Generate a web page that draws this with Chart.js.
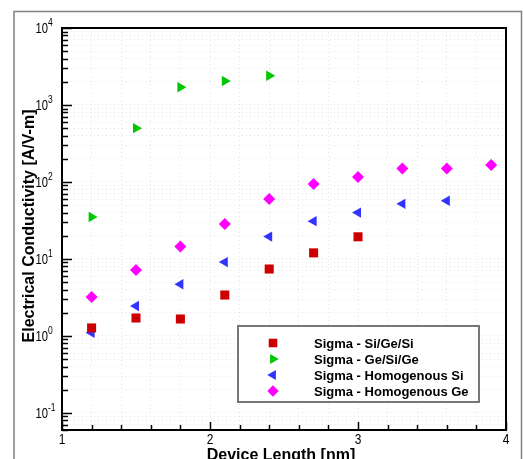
<!DOCTYPE html>
<html>
<head>
<meta charset="utf-8">
<script src="https://cdn.jsdelivr.net/npm/chart.js@4.4.1/dist/chart.umd.min.js"></script>
<style>
  html, body { margin: 0; padding: 0; background: #fff; }
  canvas { display: block; }
</style>
</head>
<body>
<canvas id="chart" width="523" height="459"></canvas>
<script>
// values (device length in nm, conductivity in A/V-m)
const siGeSiLen = [1.2, 1.5, 1.8, 2.1, 2.4, 2.7, 3.0];
const siGeSiSigma = [1.27, 1.71, 1.66, 3.4, 7.4, 12, 19.4];

const geSiGeLen = [1.2, 1.5, 1.8, 2.1, 2.4];
const geSiGeSigma = [35, 500, 1700, 2050, 2400];

const homoSiLen = [1.2, 1.5, 1.8, 2.1, 2.4, 2.7, 3.0, 3.3, 3.6];
const homoSiSigma = [1.1, 2.45, 4.7, 9.1, 19.5, 31, 40, 52, 57];

const homoGeLen = [1.2, 1.5, 1.8, 2.1, 2.4, 2.7, 3.0, 3.3, 3.6, 3.9];
const homoGeSigma = [3.2, 7.2, 14.5, 28.5, 60, 94, 116, 150, 150, 166];

const seriesNames = ['Sigma - Si/Ge/Si', 'Sigma - Ge/Si/Ge', 'Sigma - Homogenous Si', 'Sigma - Homogenous Ge'];
const xTickLabels = [1, 2, 3, 4];
const xMinorTicks = [1.2, 1.4, 1.6, 1.8, 2.2, 2.4, 2.6, 2.8, 3.2, 3.4, 3.6, 3.8];
const yTickExponents = [-1, 0, 1, 2, 3, 4];
const xTitle = 'Device Length [nm]';
const yTitle = 'Electrical Conductivity [A/V-m]';

const FONT = '"Liberation Sans", Arial, Helvetica, sans-serif';

function toPoints(xs, ys) {
    return xs.map((x, i) => ({ x: x, y: ys[i] }));
}

// all log ticks 1..9 x 10^n inside the range, used for minor grid/ticks
function logTicks(min, max) {
    const out = [];
    for (let e = -2; e <= 4; e++) {
        for (let m = 1; m <= 9; m++) {
            const v = m * Math.pow(10, e);
            if (v >= min - 1e-12 && v <= max + 1e-9) out.push(v);
        }
    }
    return out;
}

const styles = [
    { color: '#cc0000', pointStyle: 'rect', radius: 6.4, rotation: 0 },
    { color: '#00c800', pointStyle: 'triangle', radius: 6, rotation: 90 },
    { color: '#3333ff', pointStyle: 'triangle', radius: 6, rotation: -90 },
    { color: '#ff00ff', pointStyle: 'rectRot', radius: 6, rotation: 0 },
];

const seriesData = [
    toPoints(siGeSiLen, siGeSiSigma),
    toPoints(geSiGeLen, geSiGeSigma),
    toPoints(homoSiLen, homoSiSigma),
    toPoints(homoGeLen, homoGeSigma),
];

const datasets = seriesData.map((pts, i) => ({
    label: seriesNames[i],
    data: pts,
    showLine: false,
    pointStyle: styles[i].pointStyle,
    pointRotation: styles[i].rotation,
    pointRadius: styles[i].radius,
    pointHoverRadius: styles[i].radius,
    pointBackgroundColor: styles[i].color,
    pointBorderColor: styles[i].color,
    pointBorderWidth: 0,
}));

function drawMarker(ctx, st, x, y) {
    ctx.save();
    ctx.fillStyle = st.color;
    ctx.beginPath();
    const r = st.radius;
    if (st.pointStyle === 'rect') {
        const s = Math.SQRT1_2 * r;
        ctx.rect(x - s, y - s, 2 * s, 2 * s);
    } else if (st.pointStyle === 'rectRot') {
        ctx.moveTo(x, y - r); ctx.lineTo(x + r, y); ctx.lineTo(x, y + r); ctx.lineTo(x - r, y);
    } else {
        let rad = st.rotation * Math.PI / 180 - Math.PI / 2;
        for (let k = 0; k < 3; k++) {
            const a = rad + k * 2 * Math.PI / 3;
            const px = x + Math.cos(a) * r, py = y + Math.sin(a) * r;
            if (k === 0) ctx.moveTo(px, py); else ctx.lineTo(px, py);
        }
    }
    ctx.closePath();
    ctx.fill();
    ctx.restore();
}

// narrow text, the original tick labels are a bit condensed
function narrowText(ctx, txt, x, y, sx) {
    ctx.save();
    ctx.translate(x, y);
    ctx.scale(sx, 1);
    ctx.fillText(txt, 0, 0);
    ctx.restore();
}

const decorPlugin = {
    id: 'decor',
    afterDraw(chart) {
        const ctx = chart.ctx;
        const area = chart.chartArea;
        const xs = chart.scales.x;
        const ys = chart.scales.y;
        ctx.save();

        // outer frame
        ctx.strokeStyle = '#808080';
        ctx.lineWidth = 1.5;
        ctx.beginPath();
        ctx.moveTo(14, 470); ctx.lineTo(14, 11.5); ctx.lineTo(521.5, 11.5); ctx.lineTo(521.5, 470);
        ctx.stroke();

        // inward ticks on the left axis
        ctx.strokeStyle = '#000';
        ctx.lineWidth = 1.5;
        logTicks(ys.min, ys.max).forEach(v => {
            const py = Math.round(ys.getPixelForValue(v)) + 0.5;
            const major = Math.abs(Math.log10(v) - Math.round(Math.log10(v))) < 1e-9;
            ctx.beginPath();
            ctx.moveTo(area.left, py);
            ctx.lineTo(area.left + (major ? 10 : 6), py);
            ctx.stroke();
        });
        // inward ticks on the bottom axis
        xTickLabels.concat(xMinorTicks).forEach(v => {
            const px = Math.round(xs.getPixelForValue(v)) + 0.5;
            const major = xTickLabels.includes(v);
            ctx.beginPath();
            ctx.moveTo(px, area.bottom);
            ctx.lineTo(px, area.bottom - (major ? 8 : 5));
            ctx.stroke();
        });

        // plot border
        ctx.lineWidth = 2;
        ctx.strokeRect(area.left, area.top, area.right - area.left, area.bottom - area.top);

        // y tick labels 10^n
        ctx.fillStyle = '#000';
        yTickExponents.forEach(e => {
            const py = ys.getPixelForValue(Math.pow(10, e));
            ctx.font = '14px ' + FONT;
            ctx.textAlign = 'right';
            ctx.textBaseline = 'alphabetic';
            narrowText(ctx, '10', 48, py + 5, 0.8);
            ctx.font = '10px ' + FONT;
            ctx.textAlign = 'left';
            narrowText(ctx, String(e), 48, py - 2, 0.85);
        });

        // x tick labels
        ctx.font = '14px ' + FONT;
        ctx.textAlign = 'center';
        xTickLabels.forEach(v => {
            narrowText(ctx, String(v), xs.getPixelForValue(v), area.bottom + 14, 0.85);
        });

        // axis titles
        ctx.font = 'bold 16px ' + FONT;
        ctx.fillText(xTitle, 281, 460);
        ctx.save();
        ctx.translate(34, 226);
        ctx.rotate(-Math.PI / 2);
        ctx.fillText(yTitle, 0, 0);
        ctx.restore();

        // legend
        const lx = 238, ly = 326, lw = 241, lh = 76;
        ctx.fillStyle = '#fff';
        ctx.fillRect(lx, ly, lw, lh);
        ctx.strokeStyle = '#777';
        ctx.lineWidth = 2;
        ctx.strokeRect(lx, ly, lw, lh);
        ctx.font = 'bold 13px ' + FONT;
        ctx.textAlign = 'left';
        ctx.textBaseline = 'middle';
        seriesNames.forEach((name, i) => {
            const ry = 343 + i * 16;
            drawMarker(ctx, Object.assign({}, styles[i], { radius: styles[i].radius * 0.95 }), 273, ry);
            ctx.fillStyle = '#000';
            ctx.fillText(name, 314, ry + 1);
        });

        ctx.restore();
    }
};

const gridStyle = { color: '#e4e4e4', lineWidth: 1, drawTicks: false };

new Chart(document.getElementById('chart'), {
    type: 'scatter',
    data: { datasets: datasets },
    options: {
        responsive: false,
        animation: false,
        devicePixelRatio: 1,
        layout: { padding: { left: 62, top: 28, right: 17, bottom: 29 } },
        plugins: { legend: { display: false }, tooltip: { enabled: false } },
        scales: {
            x: {
                type: 'linear',
                min: 1,
                max: 4,
                afterBuildTicks: (scale) => {
                    scale.ticks = xTickLabels.concat(xMinorTicks).sort((a, b) => a - b).map(v => ({ value: v }));
                },
                afterFit: (scale) => { scale.height = 0; },
                ticks: { display: false },
                border: { display: false, dash: [1, 3] },
                grid: gridStyle,
            },
            y: {
                type: 'logarithmic',
                min: 0.06,
                max: 10000,
                afterBuildTicks: (scale) => {
                    scale.ticks = logTicks(0.06, 10000).map(v => ({ value: v }));
                },
                afterFit: (scale) => { scale.width = 0; },
                ticks: { display: false },
                border: { display: false, dash: [1, 3] },
                grid: gridStyle,
            },
        },
    },
    plugins: [decorPlugin],
});
</script>
</body>
</html>
